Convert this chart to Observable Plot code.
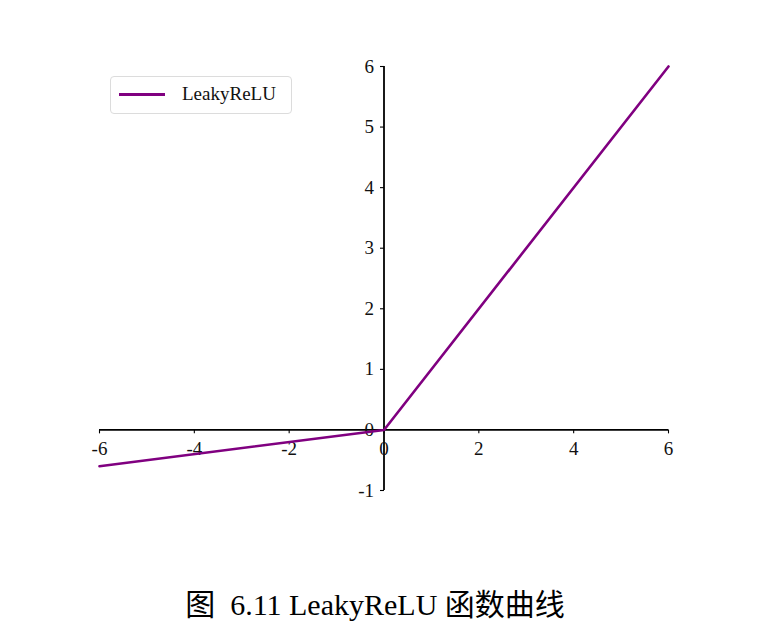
<!DOCTYPE html>
<html>
<head>
<meta charset="utf-8">
<script src="https://cdn.jsdelivr.net/npm/d3@7"></script>
<script src="https://cdn.jsdelivr.net/npm/@observablehq/plot@0.6"></script>
<style>
  html, body { margin: 0; padding: 0; background: #fff; }
  #wrap { position: relative; width: 773px; height: 622px; font-family: "Liberation Serif", "DejaVu Serif", serif; }
  #legend { position: absolute; left: 110px; top: 76px; width: 182px; height: 38px; border: 1px solid #dcdcdc; border-radius: 4px; background: #fff; box-sizing: border-box; }
  #legend .sw { position: absolute; left: 8px; top: 16px; width: 46px; height: 2.5px; background: #800080; }
  #legend .lb { position: absolute; left: 71px; top: 6px; font-size: 19px; color: #111; white-space: nowrap; }
  #caption { position: absolute; left: 0; width: 750px; top: 580px; text-align: center; font-size: 30px; color: #000; white-space: pre; font-family: "Liberation Serif", "Noto Sans CJK SC", serif; }
</style>
</head>
<body>
<div id="wrap">
  <div id="chart"></div>
  <div id="legend"><div class="sw"></div><div class="lb">LeakyReLU</div></div>
  <div id="caption">图  6.11 LeakyReLU 函数曲线</div>
</div>
<script>
const seriesName = "LeakyReLU";
const xs = [-6, 0, 6];
const ys = [-0.6, 0, 6];
const xTicks = [-6, -4, -2, 0, 2, 4, 6];
const yTicks = [-1, 0, 1, 2, 3, 4, 5, 6];

const pts = xs.map((x, i) => ({x, y: ys[i]}));

const chart = Plot.plot({
  width: 773,
  height: 560,
  marginLeft: 99,
  marginRight: 105,
  marginTop: 66,
  marginBottom: 70,
  x: {domain: [-6, 6], axis: null},
  y: {domain: [-1, 6], axis: null},
  style: {fontFamily: "Liberation Serif, DejaVu Serif, serif", fontSize: "18px", background: "white"},
  marks: [
    // spines through origin
    Plot.ruleY([0], {x1: -6, x2: 6, stroke: "#000", strokeWidth: 1.8}),
    Plot.ruleX([0], {y1: -1, y2: 6, stroke: "#000", strokeWidth: 1.8}),
    // x ticks (about 4px down)
    Plot.ruleX(xTicks, {x: d => d, y1: 0, y2: -0.065, stroke: "#000", strokeWidth: 1.1}),
    Plot.text(xTicks, {x: d => d, y: 0, text: d => String(d), dy: 19, fill: "#111", fontSize: 19}),
    // y ticks (about 4px left)
    Plot.link(yTicks, {x1: 0, x2: -0.085, y1: d => d, y2: d => d, stroke: "#000", strokeWidth: 1.1}),
    Plot.text(yTicks, {x: 0, y: d => d, text: d => String(d), dx: -10, textAnchor: "end", fill: "#111", fontSize: 19}),
    // series
    Plot.line(pts, {x: "x", y: "y", stroke: "#800080", strokeWidth: 2.6, title: () => seriesName})
  ]
});
document.getElementById("chart").appendChild(chart);
</script>
</body>
</html>
